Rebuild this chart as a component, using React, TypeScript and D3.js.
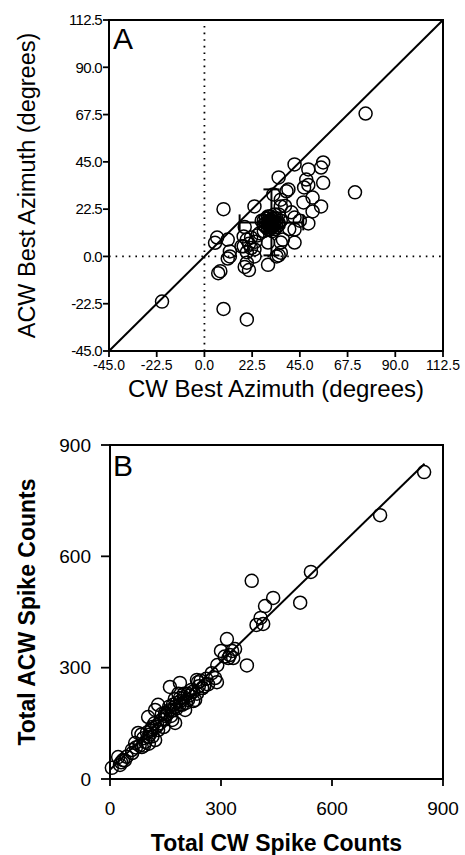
import React from 'react';
import * as d3 from 'd3';

// Panel A data: best azimuth (degrees)
const azTicks = [-45, -22.5, 0, 22.5, 45, 67.5, 90, 112.5];
const cwAzimuth = [
  76, 71, -20, 9, 20, 9, 6.5, 7.5, 19, 21, 30, 35, 11, 5, 6,
  42.5, 56, 55, 49, 35, 48, 56, 49, 47, 39.6, 51, 46.7, 55, 51, 23.6,
  36, 41, 42.5, 49, 42.5, 42.5, 36, 30, 11, 19, 20, 23.6, 17.5, 28, 30,
  36, 38, 32.5, 38.7, 12, 36, 18.5, 18.5, 12, 34, 23.6, 20, 37,
  30, 31, 32, 33, 34, 29, 31, 33, 35, 28, 32, 30, 34, 36, 33, 27, 35,
  21, 22, 24, 20, 22, 25, 45, 40, 26,
  29, 31, 32, 30, 33, 31, 32, 29, 34, 30, 31, 33, 28, 32, 35, 30.5, 31.5,
];
const acwAzimuth = [
  68, 30.5, -21.5, -25, -30, 22.5, -8, -7, -5, -6.5, -4, 0.5, -1, 6.5, 9,
  43.8, 44.7, 42.3, 41.4, 37.6, 36.6, 35, 34, 32.8, 31.9, 28, 25.7, 23.8, 21.4, 23.8,
  23.8, 21, 18.5, 15.7, 12.8, 6.6, 6.6, 6.6, 8, 14, 8, 3.3, 4.8, 12, 19,
  27, 24, 29.5, 31, 2.4, 1.8, 9.5, 4.8, 0, 0, 0, -3, 8,
  16, 14, 17, 15, 18, 18, 19, 13, 16, 15, 12, 13, 14, 17, 20, 17, 20,
  6, 9, 7, 2, 4, 10, 17, 13, 11,
  16, 17, 15, 18, 16, 15, 18, 14, 16, 15, 13, 18, 17, 14, 15, 16.5, 16,
];
const azMean = [31.6, 16.2];
const azSD = [15, 15.7];

// Panel B data: total spike counts
const spikeTicks = [0, 300, 600, 900];
const cwSpikes = [
  849, 730, 543, 514, 441, 419, 407, 396, 414, 383, 370, 316, 300, 338, 324,
  320, 333, 290, 284, 289, 238, 189, 162, 224, 230, 189, 130, 122, 176, 203,
  168, 176, 103, 114, 76, 103, 68, 86, 122, 59, 22, 35, 5, 27, 130,
  149, 211, 90, 100, 110, 120, 140, 150, 160, 170, 180, 190, 200, 210, 220,
  240, 250, 260, 95, 85, 105, 115, 125, 135, 145, 155, 165, 175, 185, 195,
  205, 215, 225, 235, 245, 255, 80, 70, 60, 45, 40, 30, 235, 249,
  265, 275, 310, 330, 140, 160, 180, 200, 108, 128, 148, 168, 188, 92, 112,
];
const acwSpikes = [
  827, 711, 558, 475, 488, 466, 434, 415, 418, 534, 306, 377, 345, 350, 334,
  326, 326, 307, 272, 261, 261, 259, 248, 235, 213, 218, 200, 186, 194, 186,
  159, 151, 167, 140, 124, 113, 97, 86, 105, 78, 59, 51, 30, 38, 132,
  178, 213, 110, 125, 130, 150, 160, 170, 185, 200, 190, 210, 220, 230, 240,
  250, 245, 270, 100, 120, 95, 115, 140, 150, 140, 175, 170, 215, 230, 200,
  205, 225, 210, 230, 265, 250, 90, 85, 70, 60, 50, 45, 267, 245,
  255, 285, 330, 345, 175, 195, 205, 230, 120, 145, 160, 185, 200, 90, 135,
];
const fitSlope = 0.97;
const fitIntercept = 25;
const fitRange = [0, 850];

const FONT = '"Liberation Sans", Arial, Helvetica, sans-serif';

export default function App() {
  const xA = d3.scaleLinear().domain([-45, 112.5]).range([109, 443]);
  const yA = d3.scaleLinear().domain([-45, 112.5]).range([351, 20]);
  const xB = d3.scaleLinear().domain([0, 900]).range([110, 443]);
  const yB = d3.scaleLinear().domain([0, 900]).range([779, 445]);

  const r = 6.5;
  const cap = 8;
  const [mx, my] = azMean;
  const [sx, sy] = azSD;

  return (
    <svg
      width={465}
      height={855}
      style={{ position: 'absolute', left: 0, top: 0, background: '#fff' }}
      fontFamily={FONT}
    >
      <rect x={0} y={0} width={465} height={855} fill="#fff" />

      {/* ---------------- Panel A ---------------- */}
      <g>
        <line x1={xA(0)} x2={xA(0)} y1={yA(-45)} y2={yA(112.5)} stroke="#000" strokeWidth={1.8} strokeDasharray="1.6,5" />
        <line x1={xA(-45)} x2={xA(112.5)} y1={yA(0)} y2={yA(0)} stroke="#000" strokeWidth={1.8} strokeDasharray="1.6,5" />
        <line x1={xA(-45)} y1={yA(-45)} x2={xA(112.5)} y2={yA(112.5)} stroke="#000" strokeWidth={2} />
        {cwAzimuth.map((v, i) => (
          <circle key={i} cx={xA(v)} cy={yA(acwAzimuth[i])} r={r} fill="none" stroke="#000" strokeWidth={1.5} />
        ))}
        <g stroke="#000" strokeWidth={2}>
          <line x1={xA(mx - sx)} x2={xA(mx + sx)} y1={yA(my)} y2={yA(my)} />
          <line x1={xA(mx - sx)} x2={xA(mx - sx)} y1={yA(my) - cap} y2={yA(my) + cap} />
          <line x1={xA(mx + sx)} x2={xA(mx + sx)} y1={yA(my) - cap} y2={yA(my) + cap} />
          <line x1={xA(mx)} x2={xA(mx)} y1={yA(my - sy)} y2={yA(my + sy)} />
          <line x1={xA(mx) - cap} x2={xA(mx) + cap} y1={yA(my + sy)} y2={yA(my + sy)} />
          <line x1={xA(mx) - cap} x2={xA(mx) + cap} y1={yA(my - sy)} y2={yA(my - sy)} />
        </g>
        <rect x={xA(-45)} y={yA(112.5)} width={xA(112.5) - xA(-45)} height={yA(-45) - yA(112.5)} fill="none" stroke="#000" strokeWidth={2} />
        {azTicks.map((t) => (
          <g key={'ax' + t}>
            <line x1={xA(t)} x2={xA(t)} y1={yA(-45)} y2={yA(-45) + 6} stroke="#000" strokeWidth={1.8} />
            <text x={xA(t)} y={370} textAnchor="middle" fontSize={14}>{t.toFixed(1)}</text>
          </g>
        ))}
        {azTicks.map((t) => (
          <g key={'ay' + t}>
            <line x1={xA(-45) - 6} x2={xA(-45)} y1={yA(t)} y2={yA(t)} stroke="#000" strokeWidth={1.8} />
            <text x={102} y={yA(t) + 5.3} textAnchor="end" fontSize={15} letterSpacing={-0.7}>{t.toFixed(1)}</text>
          </g>
        ))}
        <text x={113} y={49} fontSize={30}>A</text>
        <text x={(xA(-45) + xA(112.5)) / 2} y={397} textAnchor="middle" fontSize={24}>CW Best Azimuth (degrees)</text>
        <text transform={`translate(35,${(yA(-45) + yA(112.5)) / 2}) rotate(-90)`} textAnchor="middle" fontSize={23.5}>ACW Best Azimuth (degrees)</text>
      </g>

      {/* ---------------- Panel B ---------------- */}
      <g>
        <line x1={xB(fitRange[0])} y1={yB(fitIntercept + fitSlope * fitRange[0])} x2={xB(fitRange[1])} y2={yB(fitIntercept + fitSlope * fitRange[1])} stroke="#000" strokeWidth={2} />
        {cwSpikes.map((v, i) => (
          <circle key={i} cx={xB(v)} cy={yB(acwSpikes[i])} r={r} fill="none" stroke="#000" strokeWidth={1.5} />
        ))}
        <rect x={xB(0)} y={yB(900)} width={xB(900) - xB(0)} height={yB(0) - yB(900)} fill="none" stroke="#000" strokeWidth={2} />
        {spikeTicks.map((t) => (
          <g key={'bx' + t}>
            <line x1={xB(t)} x2={xB(t)} y1={yB(0)} y2={yB(0) + 7} stroke="#000" strokeWidth={1.8} />
            <text x={xB(t)} y={815} textAnchor="middle" fontSize={19}>{t}</text>
          </g>
        ))}
        {spikeTicks.map((t) => (
          <g key={'by' + t}>
            <line x1={xB(0) - 9} x2={xB(0)} y1={yB(t)} y2={yB(t)} stroke="#000" strokeWidth={1.8} />
            <text x={91} y={yB(t) + 6.5} textAnchor="end" fontSize={19}>{t}</text>
          </g>
        ))}
        <text x={113} y={476} fontSize={30}>B</text>
        <text x={(xB(0) + xB(900)) / 2} y={851} textAnchor="middle" fontSize={23} fontWeight="bold">Total CW Spike Counts</text>
        <text transform={`translate(35,${(yB(0) + yB(900)) / 2}) rotate(-90)`} textAnchor="middle" fontSize={23} fontWeight="bold">Total ACW Spike Counts</text>
      </g>
    </svg>
  );
}
